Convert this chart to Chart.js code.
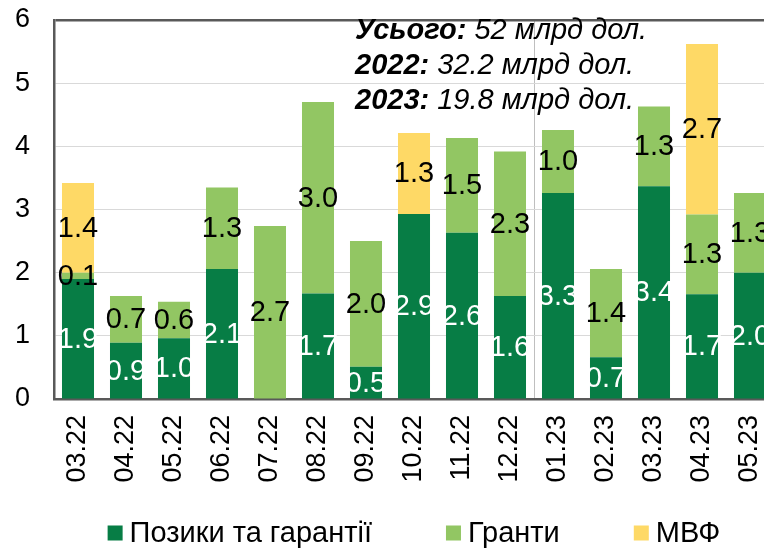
<!DOCTYPE html>
<html>
<head>
<meta charset="utf-8">
<script src="https://cdn.jsdelivr.net/npm/chart.js@4/dist/chart.umd.min.js"></script>
<style>
  html, body { margin: 0; padding: 0; background: #fff; overflow: hidden; }
  #wrap { width: 764px; height: 548px; overflow: hidden; }
</style>
</head>
<body>
<div id="wrap"><canvas id="chart" width="774" height="548"></canvas></div>
<script>
// місяці
const categories = ['03.22', '04.22', '05.22', '06.22', '07.22', '08.22', '09.22', '10.22',
    '11.22', '12.22', '01.23', '02.23', '03.23', '04.23', '05.23'];

// млрд дол.
const loans = [1.9, 0.89, 0.96, 2.06, 0, 1.67, 0.51, 2.93, 2.63, 1.63, 3.26, 0.66, 3.37, 1.66, 2.0];
const grants = [0.1, 0.74, 0.58, 1.29, 2.74, 3.03, 1.99, 0, 1.5, 2.29, 1.0, 1.4, 1.26, 1.26, 1.26];
const imf = [1.42, 0, 0, 0, 0, 0, 0, 1.28, 0, 0, 0, 0, 0, 2.7, 0];

const yTicks = [0, 1, 2, 3, 4, 5, 6];
const seriesNames = ['Позики та гарантії', 'Гранти', 'МВФ'];
const notes = [
    ['Усього:', ' 52 млрд дол.'],
    ['2022:', ' 32.2 млрд дол.'],
    ['2023:', ' 19.8 млрд дол.']
];

const FONT = "'Liberation Sans', Arial, sans-serif";
const colors = ['#077d45', '#92c663', '#fed966'];

// підписи значень всередині стовпчиків
const barLabels = {
    id: 'barLabels',
    afterDatasetsDraw(chart) {
        const ctx = chart.ctx;
        ctx.save();
        ctx.font = '29px ' + FONT;
        ctx.textAlign = 'center';
        ctx.textBaseline = 'middle';
        chart.data.datasets.forEach((ds, i) => {
            const meta = chart.getDatasetMeta(i);
            meta.data.forEach((bar, j) => {
                const v = ds.data[j];
                if (!v) return;
                ctx.fillStyle = i === 0 ? '#ffffff' : '#000000';
                ctx.fillText(v.toFixed(1), bar.x, (bar.y + bar.base) / 2 + 1);
            });
        });
        ctx.restore();
    }
};

// текст у верхньому правому куті та легенда
const extras = {
    id: 'extras',
    afterDraw(chart) {
        const ctx = chart.ctx;
        ctx.save();
        ctx.fillStyle = '#000';
        ctx.textBaseline = 'alphabetic';
        ctx.textAlign = 'left';
        notes.forEach((n, i) => {
            const y = 39 + i * 35;
            ctx.font = 'italic bold 29px ' + FONT;
            ctx.fillText(n[0], 355, y);
            const w = ctx.measureText(n[0]).width;
            ctx.font = 'italic 29px ' + FONT;
            ctx.fillText(n[1], 355 + w, y);
        });

        // легенда
        ctx.font = '29px ' + FONT;
        ctx.textBaseline = 'middle';
        const box = 15, gapText = 7, gapItem = 74;
        const widths = seriesNames.map(s => box + gapText + ctx.measureText(s).width);
        const total = widths.reduce((a, b) => a + b, 0) + gapItem * (widths.length - 1);
        let x = (chart.chartArea.left + chart.chartArea.right) / 2 - total / 2;
        const cy = 533;
        seriesNames.forEach((s, i) => {
            ctx.fillStyle = colors[i];
            ctx.fillRect(x, cy - box / 2, box, box);
            ctx.fillStyle = '#000';
            ctx.fillText(s, x + box + gapText, cy + 1);
            x += widths[i] + gapItem;
        });
        ctx.restore();
    }
};

new Chart(document.getElementById('chart'), {
    type: 'bar',
    data: {
        labels: categories,
        datasets: [
            { label: seriesNames[0], data: loans, backgroundColor: colors[0] },
            { label: seriesNames[1], data: grants, backgroundColor: colors[1] },
            { label: seriesNames[2], data: imf, backgroundColor: colors[2] }
        ]
    },
    options: {
        responsive: false,
        animation: false,
        devicePixelRatio: 1,
        layout: { padding: 0 },
        datasets: { bar: { barPercentage: 0.667, categoryPercentage: 1 } },
        plugins: { legend: { display: false }, tooltip: { enabled: false } },
        scales: {
            x: {
                stacked: true,
                afterFit(scale) {
                    scale.height = 149;
                    scale.paddingLeft = 0;
                    scale.paddingRight = 0;
                },
                border: { display: true, color: '#595959', width: 2.5 },
                grid: {
                    display: true,
                    offset: true,
                    drawTicks: false,
                    color: c => c.index === 10 ? '#bfbfbf' : 'rgba(0,0,0,0)',
                    lineWidth: 1
                },
                ticks: {
                    color: '#000',
                    font: { family: FONT, size: 27 },
                    minRotation: 90,
                    maxRotation: 90,
                    padding: 16,
                    autoSkip: false
                }
            },
            y: {
                stacked: true,
                min: 0,
                max: 6,
                afterFit(scale) {
                    scale.width = 54;
                    scale.paddingTop = 20;
                    scale.paddingBottom = 0;
                },
                afterBuildTicks(scale) { scale.ticks = yTicks.map(v => ({ value: v })); },
                border: { display: true, color: '#595959', width: 2.5 },
                grid: {
                    drawTicks: false,
                    color: c => c.tick && c.tick.value === 6 ? '#595959' : '#d9d9d9',
                    lineWidth: c => c.tick && c.tick.value === 6 ? 2.5 : 1
                },
                ticks: {
                    color: '#000',
                    font: { family: FONT, size: 27 },
                    padding: 24
                }
            }
        }
    },
    plugins: [barLabels, extras]
});
</script>
</body>
</html>
